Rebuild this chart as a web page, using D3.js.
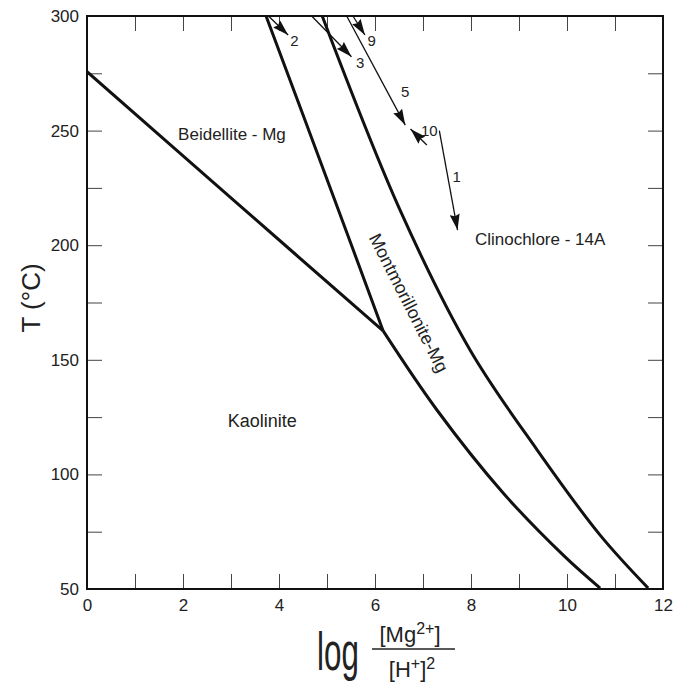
<!DOCTYPE html>
<html>
<head>
<meta charset="utf-8">
<script src="https://cdn.jsdelivr.net/npm/d3@7"></script>
<style>
  body { margin: 0; background: #fff; }
  svg { display: block; font-family: "Liberation Sans", Arial, sans-serif; }
</style>
</head>
<body>
<svg id="chart" width="675" height="692"></svg>
<script>
// phase boundaries, [log(aMg/aH^2), T °C]
const kaoBeid = [[0, 275.7], [3.1, 218.8], [6.17, 162.6]];
const beidMont = [[3.73, 300], [5.11, 222.6], [6.17, 162.6]];
const kaoMont = [[6.17, 162.6], [7.29, 128.1], [8.67, 91.9], [9.96, 64.0], [10.69, 50.4]];
const montClino = [[4.90, 300], [6.52, 215.4], [7.98, 154.3], [9.38, 110.6], [10.69, 73.5], [11.69, 50.4]];

// fluid paths (numbered)
const arrowNames = ['2', '3', '9', '5', '10', '1'];
const arrowFrom = [[3.78, 300], [4.68, 300], [5.54, 300], [5.41, 300], [7.08, 243.7], [7.34, 250]];
const arrowTo = [[4.19, 291.7], [5.51, 282.2], [5.79, 291.7], [6.63, 252.4], [6.74, 250.7], [7.72, 206.6]];
const arrowLabelAt = [[4.32, 289.4], [5.69, 279.6], [5.93, 289.5], [6.63, 267.0], [7.13, 250.0], [7.70, 229.9]];

const fieldNames = ['Beidellite - Mg', 'Kaolinite', 'Clinochlore - 14A', 'Montmorillonite-Mg'];
const fieldAt = [[3.02, 248.1], [3.65, 123.3], [9.44, 202.3], [6.70, 174.8]];
const fieldAngle = [0, 0, 0, 63];
const fieldSize = [17, 18, 17, 18];

const xTicks = [0, 1, 2, 3, 4, 5, 6, 7, 8, 9, 10, 11, 12];
const yTicks = [50, 75, 100, 125, 150, 175, 200, 225, 250, 275, 300];

const margin = { top: 16, left: 87 };
const width = 576;
const height = 573;

const svg = d3.select('#chart');
const g = svg.append('g').attr('transform', `translate(${margin.left},${margin.top})`);

const x = d3.scaleLinear().domain([0, 12]).range([0, width]);
const y = d3.scaleLinear().domain([50, 300]).range([height, 0]);

// ticks point inward on all four sides
const tickLen = 15;
const styleAxis = (sel) => {
  sel.select('.domain').remove();
  sel.selectAll('.tick line').attr('stroke', '#444').attr('stroke-width', 1);
  sel.selectAll('.tick text').attr('fill', '#222').style('font-size', '17px')
    .style('font-family', '"Liberation Sans", Arial, sans-serif');
};

g.append('g').attr('transform', `translate(0,${height})`)
  .call(d3.axisBottom(x).tickValues(xTicks).tickSize(-tickLen).tickPadding(10)
    .tickFormat((d) => d % 2 === 0 ? d : ''))
  .call(styleAxis);
g.append('g')
  .call(d3.axisTop(x).tickValues(xTicks).tickSize(-tickLen).tickFormat(''))
  .call(styleAxis);
g.append('g')
  .call(d3.axisLeft(y).tickValues(yTicks).tickSize(-tickLen).tickPadding(8)
    .tickFormat((d) => d % 50 === 0 ? d : ''))
  .call(styleAxis);
g.append('g').attr('transform', `translate(${width},0)`)
  .call(d3.axisRight(y).tickValues(yTicks).tickSize(-tickLen).tickFormat(''))
  .call(styleAxis);

g.append('rect')
  .attr('width', width).attr('height', height)
  .attr('fill', 'none').attr('stroke', '#111').attr('stroke-width', 2);

const line = d3.line()
  .x((d) => x(d[0])).y((d) => y(d[1]))
  .curve(d3.curveCatmullRom.alpha(0.5));

const clip = svg.append('clipPath').attr('id', 'plotclip');
clip.append('rect').attr('width', width).attr('height', height);

const curves = g.append('g').attr('clip-path', 'url(#plotclip)');
[kaoBeid, beidMont, kaoMont, montClino].forEach((pts) => {
  curves.append('path')
    .attr('d', line(pts))
    .attr('fill', 'none')
    .attr('stroke', '#111')
    .attr('stroke-width', 3)
    .attr('stroke-linejoin', 'round');
});

// arrowhead marker
svg.append('defs').append('marker')
  .attr('id', 'head')
  .attr('viewBox', '0 0 16 10')
  .attr('refX', 16).attr('refY', 5)
  .attr('markerWidth', 16).attr('markerHeight', 10)
  .attr('markerUnits', 'userSpaceOnUse')
  .attr('orient', 'auto')
  .append('path')
    .attr('d', 'M0,0 L16,5 L0,10 L2,5 Z')
    .attr('fill', '#111');

arrowNames.forEach((name, i) => {
  g.append('line')
    .attr('x1', x(arrowFrom[i][0])).attr('y1', y(arrowFrom[i][1]))
    .attr('x2', x(arrowTo[i][0])).attr('y2', y(arrowTo[i][1]))
    .attr('stroke', '#111').attr('stroke-width', 1.3)
    .attr('marker-end', 'url(#head)');
  g.append('text')
    .attr('x', x(arrowLabelAt[i][0])).attr('y', y(arrowLabelAt[i][1]))
    .attr('text-anchor', 'middle').attr('dominant-baseline', 'central')
    .style('font-size', '15px').attr('fill', '#222')
    .text(name);
});

fieldNames.forEach((name, i) => {
  const px = x(fieldAt[i][0]);
  const py = y(fieldAt[i][1]);
  g.append('text')
    .attr('transform', `translate(${px},${py}) rotate(${fieldAngle[i]})`)
    .attr('text-anchor', 'middle').attr('dominant-baseline', 'central')
    .style('font-size', fieldSize[i] + 'px').attr('fill', '#222')
    .text(name);
});

// y axis title
svg.append('text')
  .attr('transform', 'translate(31,298) rotate(-90)')
  .attr('text-anchor', 'middle').attr('dominant-baseline', 'central')
  .style('font-size', '26px').attr('fill', '#222')
  .text('T (°C)');

// x axis title: log [Mg2+]/[H+]^2
const xt = svg.append('g');
xt.append('text')
  .attr('transform', 'translate(338,670) scale(0.58,1)')
  .attr('text-anchor', 'middle')
  .style('font-size', '54px').attr('fill', '#222')
  .text('log');
const num = xt.append('text')
  .attr('x', 410).attr('y', 642)
  .attr('text-anchor', 'middle')
  .style('font-size', '22px').attr('fill', '#222');
num.append('tspan').text('[Mg');
num.append('tspan').attr('dy', -8).style('font-size', '16px').text('2+');
num.append('tspan').attr('dy', 8).text(']');
xt.append('line')
  .attr('x1', 372).attr('x2', 455).attr('y1', 649).attr('y2', 649)
  .attr('stroke', '#222').attr('stroke-width', 1.5);
const den = xt.append('text')
  .attr('x', 412).attr('y', 677)
  .attr('text-anchor', 'middle')
  .style('font-size', '22px').attr('fill', '#222');
den.append('tspan').text('[H');
den.append('tspan').attr('dy', -8).style('font-size', '16px').text('+');
den.append('tspan').attr('dy', 8).text(']');
den.append('tspan').attr('dy', -8).style('font-size', '16px').text('2');
</script>
</body>
</html>
